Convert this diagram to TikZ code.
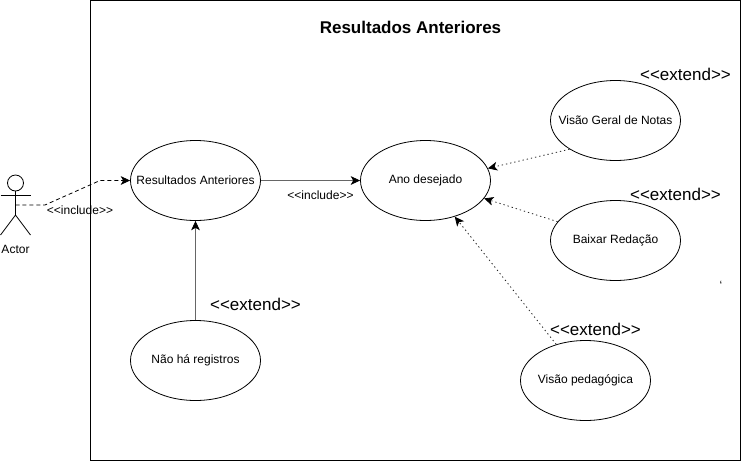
\documentclass[tikz,border=0pt]{standalone}
\usepackage{fontspec}
\setmainfont{Liberation Sans}
\usetikzlibrary{arrows.meta}
\usetikzlibrary{shapes}
\newcommand{\uctext}[1]{\makebox[0pt]{#1}}
\tikzset{
  usecase/.style={draw,ellipse,line width=.6pt,minimum width=97.5pt,minimum height=60pt,inner sep=0pt,font=\fontsize{9}{11}\selectfont},
  small/.style={font=\fontsize{9}{11}\selectfont,inner sep=0pt},
  big/.style={font=\fontsize{12.75}{15}\selectfont,inner sep=0pt},
  link/.style={draw=black!60,line width=.6pt,-{Stealth[length=7pt,width=6.5pt,inset=1.8pt,black]}},
  dep/.style={link,draw=black!85,dash pattern=on 1pt off 2.2pt}
}
\begin{document}
\begin{tikzpicture}[x=.75pt,y=-.75pt,line width=.75pt]
 \useasboundingbox (0,0) rectangle (742,461);
 \node[draw,minimum width=487.5pt,minimum height=345pt,inner sep=0pt] (frame) at (415.5,230.5) {};
 \node[font=\bfseries\fontsize{12.75}{15}\selectfont,inner sep=0pt] (title) at (410.5,27) {Resultados Anteriores};
 % actor
 \node[draw,circle,line width=.6pt,minimum size=12pt,inner sep=0pt] (head) at (15.5,183) {};
 \coordinate (hip) at (15.5,215);
 \coordinate (waist) at (15.5,205);
 \coordinate (armL) at (0.5,195);
 \coordinate (armR) at (30.5,195);
 \coordinate (footL) at (0.5,235);
 \coordinate (footR) at (30.5,235);
 \draw[line width=.6pt] (head.south) -- (hip);
 \draw[line width=.6pt] (armL) -- (armR);
 \draw[line width=.6pt] (footL) -- (hip) -- (footR);
 \node[small] (actor) at (15.5,249) {Actor};
 % use cases
 \node[usecase] (resultados) at (195.5,180.5) {\uctext{Resultados Anteriores}};
 \node[usecase] (ano) at (425.5,180.5) {\uctext{Ano desejado}};
 \node[usecase] (geral) at (615.5,120.5) {\uctext{Visão Geral de Notas}};
 \node[usecase] (baixar) at (615.5,240.5) {\uctext{Baixar Redação}};
 \node[usecase] (pedagogica) at (585.5,380.5) {\uctext{Visão pedagógica}};
 \node[usecase] (registros) at (195.5,360.5) {\uctext{Não há registros}};
 % connectors
 \coordinate (bend1) at (45,205);
 \coordinate (bend2) at (100,180.5);
 \draw[link,draw=black,dash pattern=on 3pt off 2.2pt] (waist) -- (bend1) -- (bend2) -- (resultados.west);
 \draw[link] (resultados) -- (ano);
 \draw[link] (registros) -- (resultados);
 \draw[dep] (geral.212) -- (ano.11);
 \draw[dep] (baixar.162) -- (ano.-17);
 \draw[dep] (pedagogica.129) -- (ano.-51);
 % labels
 \node[small] (inc1) at (80,210) {<{}<include>{}>};
 \node[small] (inc2) at (320.5,195) {<{}<include>{}>};
 \node[big] (ext1) at (685.5,74) {<{}<extend>{}>};
 \node[big] (ext2) at (675.5,194) {<{}<extend>{}>};
 \node[big] (ext3) at (595.5,329) {<{}<extend>{}>};
 \node[big] (ext4) at (255.5,304) {<{}<extend>{}>};
 \node[small] (tick) at (721,285) {`};
\end{tikzpicture}
\end{document}
